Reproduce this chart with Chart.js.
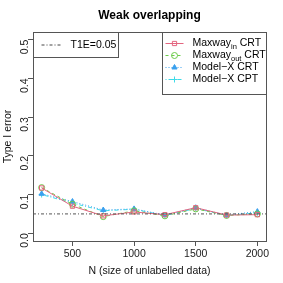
<!DOCTYPE html>
<html><head><meta charset="utf-8">
<script src="https://cdn.jsdelivr.net/npm/chart.js@4/dist/chart.umd.min.js"></script>
<style>html,body{margin:0;padding:0;background:#fff}#w{width:283px;height:283px}</style>
</head><body><div id="w"><canvas id="c" width="283" height="283"></canvas></div>
<script>
const sampleSizes = [250, 500, 750, 1000, 1250, 1500, 1750, 2000];
const maxwayInCRT  = [0.117, 0.070, 0.045, 0.055, 0.048, 0.066, 0.047, 0.048];
const maxwayOutCRT = [0.118, 0.075, 0.043, 0.058, 0.045, 0.063, 0.046, 0.050];
const modelXCRT    = [0.102, 0.082, 0.060, 0.063, 0.047, 0.066, 0.047, 0.056];
const modelXCPT    = [0.100, 0.078, 0.058, 0.062, 0.046, 0.064, 0.046, 0.053];
const t1e = 0.05;
const xTicks = [500, 1000, 1500, 2000];
const yTicks = [0.0, 0.1, 0.2, 0.3, 0.4, 0.5];
const titleText = "Weak overlapping";
const xTitle = "N (size of unlabelled data)";
const yTitle = "Type I error";

const RED = "#e3657f", GREEN = "#6ccc4a", BLUE = "#3aa0ee", CYAN = "#3ddbe8";
const FONT = "'Liberation Sans', Arial, sans-serif";
const pts = arr => sampleSizes.map((x, i) => ({x, y: arr[i]}));

const series = [
  {label: ["Maxway", "in", " CRT"], data: maxwayInCRT, color: RED, dash: [], style: "rect", fill: false},
  {label: ["Maxway", "out", " CRT"], data: maxwayOutCRT, color: GREEN, dash: [3, 3], style: "circle", fill: false},
  {label: ["Model\u2212X CRT", "", ""], data: modelXCRT, color: BLUE, dash: [1, 2], style: "triangle", fill: true},
  {label: ["Model\u2212X CPT", "", ""], data: modelXCPT, color: CYAN, dash: [1, 2, 4, 2], style: "cross", fill: false}
];

const datasets = series.map(s => ({
  label: s.label.join(""),
  data: pts(s.data),
  borderColor: s.color,
  backgroundColor: s.fill ? s.color : "rgba(0,0,0,0)",
  borderWidth: 1,
  borderDash: s.dash,
  pointStyle: s.style,
  pointRadius: 3,
  pointBorderWidth: 1,
  pointBorderColor: s.color,
  pointBackgroundColor: s.fill ? s.color : "rgba(0,0,0,0)",
  tension: 0
}));
datasets.unshift({
  label: "T1E",
  data: [{x: 180, y: t1e}, {x: 2070, y: t1e}],
  borderColor: "#555",
  borderWidth: 1,
  borderDash: [3, 2, 1, 2],
  pointRadius: 0
});

const rStyle = {
  id: "rStyle",
  afterDraw(chart) {
    const ctx = chart.ctx, a = chart.chartArea;
    ctx.save();
    // box
    ctx.strokeStyle = "#555"; ctx.lineWidth = 1; ctx.setLineDash([]);
    ctx.strokeRect(Math.round(a.left) + 0.5, Math.round(a.top) + 0.5, Math.round(a.right - a.left), Math.round(a.bottom - a.top));
    // title
    ctx.fillStyle = "#000"; ctx.font = "bold 12px " + FONT;
    ctx.textAlign = "center"; ctx.textBaseline = "middle";
    ctx.fillText(titleText, (a.left + a.right) / 2, 16);
    // left legend
    const lx0 = Math.round(a.left) + 0.5, ly0 = Math.round(a.top) + 0.5;
    ctx.fillStyle = "#fff"; ctx.fillRect(lx0, ly0, 85, 25);
    ctx.strokeStyle = "#555"; ctx.strokeRect(lx0, ly0, 85, 25);
    ctx.strokeStyle = "#444"; ctx.setLineDash([3, 2, 1, 2]);
    ctx.beginPath(); ctx.moveTo(lx0 + 8, ly0 + 12.5); ctx.lineTo(lx0 + 28, ly0 + 12.5); ctx.stroke();
    ctx.setLineDash([]);
    ctx.fillStyle = "#000"; ctx.font = "10.5px " + FONT; ctx.textAlign = "left";
    ctx.fillText("T1E=0.05", lx0 + 37, ly0 + 13);
    // right legend
    const rx1 = Math.round(a.right) + 0.5, rx0 = rx1 - 104, ry0 = ly0, rh = 62;
    ctx.fillStyle = "#fff"; ctx.fillRect(rx0, ry0, rx1 - rx0, rh);
    ctx.strokeStyle = "#555"; ctx.strokeRect(rx0, ry0, rx1 - rx0, rh);
    series.forEach((s, i) => {
      const y = ry0 + 11 + i * 12;
      ctx.strokeStyle = s.color; ctx.lineWidth = 1; ctx.setLineDash(s.dash);
      ctx.beginPath(); ctx.moveTo(rx0 + 3, y); ctx.lineTo(rx0 + 21, y); ctx.stroke();
      ctx.setLineDash([]);
      const cx = rx0 + 12;
      ctx.fillStyle = s.fill ? s.color : "rgba(0,0,0,0)";
      ctx.strokeStyle = s.color;
      ctx.lineWidth = 1;
      Chart.helpers.drawPoint(ctx, {pointStyle: s.style, radius: 3, borderWidth: 1}, cx, y);
      ctx.fillStyle = "#000"; ctx.font = "10.5px " + FONT; ctx.textBaseline = "middle"; ctx.textAlign = "left";
      let tx = rx0 + 30;
      ctx.fillText(s.label[0], tx, y);
      tx += ctx.measureText(s.label[0]).width;
      if (s.label[1]) {
        ctx.font = "7.5px " + FONT;
        ctx.fillText(s.label[1], tx, y + 3);
        tx += ctx.measureText(s.label[1]).width;
        ctx.font = "10.5px " + FONT;
        ctx.fillText(s.label[2], tx, y);
      }
    });
    ctx.restore();
  }
};

new Chart(document.getElementById("c"), {
  type: "line",
  data: {datasets},
  plugins: [rStyle],
  options: {
    responsive: false,
    animation: false,
    devicePixelRatio: 1,
    layout: {padding: {top: 32, right: 17, left: 0, bottom: 0}},
    plugins: {legend: {display: false}, tooltip: {enabled: false}, title: {display: false}},
    elements: {line: {borderJoinStyle: "miter"}},
    scales: {
      x: {
        type: "linear", min: 180, max: 2070,
        afterBuildTicks: s => { s.ticks = xTicks.map(v => ({value: v})); },
        afterFit: s => { s.height = 42; },
        grid: {display: true, drawOnChartArea: false, drawTicks: true, tickLength: 5, color: "#555"},
        border: {display: false},
        ticks: {color: "#222", font: {family: FONT, size: 10.5}, padding: 2, maxRotation: 0, autoSkip: false,
                callback: v => String(v)},
        title: {display: true, text: xTitle, color: "#111", font: {family: FONT, size: 10.5}, padding: {top: 2, bottom: 6}}
      },
      y: {
        type: "linear", min: -0.02, max: 0.52,
        afterBuildTicks: s => { s.ticks = yTicks.map(v => ({value: v})); },
        afterFit: s => { s.width = 33; },
        grid: {display: true, drawOnChartArea: false, drawTicks: true, tickLength: 5, color: "#555"},
        border: {display: false},
        ticks: {color: "#222", font: {family: FONT, size: 10.5}, padding: 3, minRotation: 90, maxRotation: 90,
                callback: v => v.toFixed(1)},
        title: {display: true, text: yTitle, color: "#111", font: {family: FONT, size: 10.5}, padding: {top: 2, bottom: 0}}
      }
    }
  }
});
</script></body></html>
